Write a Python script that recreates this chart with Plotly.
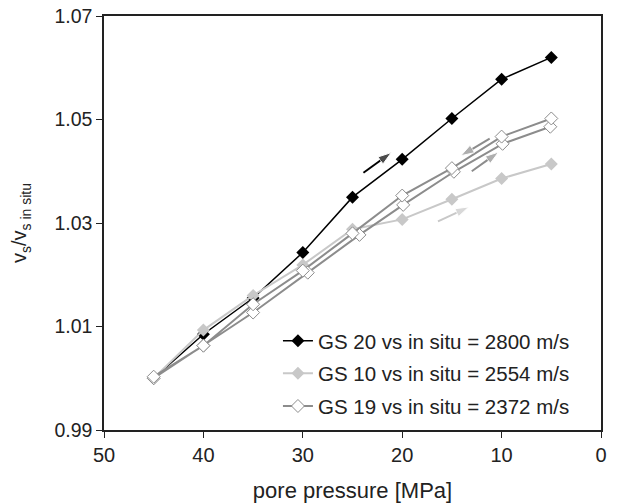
import plotly.graph_objects as go

pressure = [45, 40, 35, 30, 25, 20, 15, 10, 5]
gs20 = [1.000, 1.0085, 1.0155, 1.0243, 1.0350, 1.0423, 1.0502, 1.0578, 1.0620]
gs10 = [1.000, 1.0093, 1.0160, 1.0219, 1.0288, 1.0307, 1.0346, 1.0386, 1.0414]
gs19_pressure = [45, 40, 35, 29.5, 24.3, 19.9, 14.8, 9.9, 5.1, 5, 10, 15, 20, 25, 30, 35, 40, 45]
gs19 = [1.000, 1.0063, 1.0127, 1.0204, 1.0277, 1.0335, 1.0399, 1.0453, 1.0486,
        1.0502, 1.0467, 1.0406, 1.0353, 1.0280, 1.0208, 1.0143, 1.0063, 1.0003]

names = ["GS 20 vs in situ = 2800 m/s", "GS 10 vs in situ = 2554 m/s", "GS 19 vs in situ = 2372 m/s"]

# direction arrows: tail -> head
arrow_tail_x = [23.9, 16.4, 13.0, 11.2]
arrow_tail_y = [1.0397, 1.0303, 1.0400, 1.0463]
arrow_head_x = [21.1, 13.3, 10.3, 14.1]
arrow_head_y = [1.0436, 1.0331, 1.0437, 1.0430]
arrow_colors = ["#000000", "#c8c8c8", "#8c8c8c", "#8c8c8c"]

BLACK = "#000000"
LIGHT = "#c8c8c8"
GRAY = "#8c8c8c"

fig = go.Figure()
fig.add_trace(go.Scatter(
    x=pressure, y=gs20, name=names[0], legendgroup="a", mode="lines+markers",
    line=dict(color=BLACK, width=1.5),
    marker=dict(symbol="diamond", size=10, color=BLACK)))
fig.add_trace(go.Scatter(
    x=pressure, y=gs10, name=names[1], legendgroup="b", mode="lines+markers",
    line=dict(color=LIGHT, width=2),
    marker=dict(symbol="diamond", size=10, color=LIGHT)))
fig.add_trace(go.Scatter(
    x=gs19_pressure, y=gs19, name=names[2], legendgroup="c", mode="lines+markers",
    line=dict(color=GRAY, width=2),
    marker=dict(symbol="diamond", size=10, color="white", line=dict(color=GRAY, width=1))))

for tx, ty, hx, hy, c in zip(arrow_tail_x, arrow_tail_y, arrow_head_x, arrow_head_y, arrow_colors):
    fig.add_trace(go.Scatter(
        x=[tx, hx], y=[ty, hy], mode="lines+markers", showlegend=False, hoverinfo="skip",
        line=dict(color=c, width=2),
        marker=dict(symbol="arrow", size=[0, 14], angleref="previous", color=c)))

TXT = "#222222"
fig.update_layout(
    width=624, height=504,
    margin=dict(l=104, r=23, t=16, b=74, autoexpand=False),
    paper_bgcolor="white", plot_bgcolor="white",
    font=dict(family="Liberation Sans, Arial, sans-serif", size=20, color=TXT),
    showlegend=True,
    legend=dict(x=0.35, y=0.01, xanchor="left", yanchor="bottom",
                bgcolor="rgba(0,0,0,0)", font=dict(size=20.5, color=TXT),
                tracegroupgap=3, itemwidth=30, traceorder="grouped"),
    xaxis=dict(range=[50, 0], dtick=10, tick0=0, showgrid=False, zeroline=False,
               showline=True, linecolor=TXT, linewidth=1.5, mirror=True,
               ticks="outside", ticklen=6, tickcolor=TXT, tickwidth=1, automargin=False,
               tickfont=dict(size=20), ticklabeloverflow="allow",
               title=dict(text="pore pressure [MPa]", standoff=18, font=dict(size=22))),
    yaxis=dict(range=[0.99, 1.07], dtick=0.02, tick0=0.99, tickformat=".2f", showgrid=False,
               zeroline=False, showline=True, linecolor=TXT, linewidth=1.5, mirror=True,
               ticks="outside", ticklen=6, tickcolor=TXT, tickwidth=1, automargin=False,
               tickfont=dict(size=19.5), ticklabeloverflow="allow",
               title=dict(text="v<sub>s</sub>/v<sub>s in situ</sub>", standoff=22, font=dict(size=20))),
)

fig.write_html("out.html", config={"displayModeBar": False},
               post_script="document.body.style.margin='0';")
